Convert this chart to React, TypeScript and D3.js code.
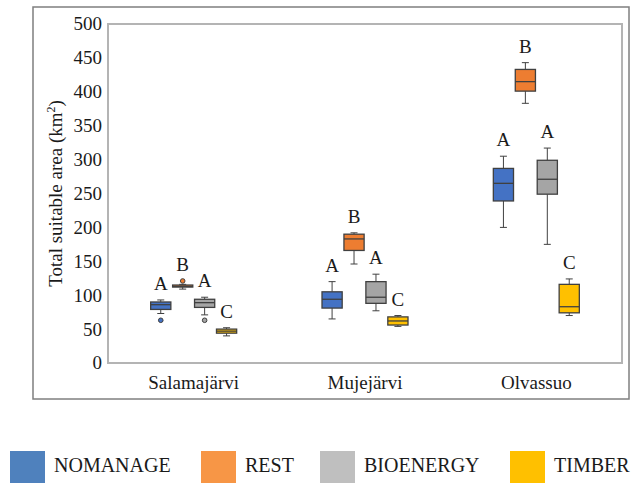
import React, { useEffect } from 'react';
import * as d3 from 'd3';

const sites = ['Salamajärvi', 'Mujejärvi', 'Olvassuo'];
const series = ['NOMANAGE', 'REST', 'BIOENERGY', 'TIMBER'];
const boxColors = ['#4472C4', '#ED7D31', '#A5A5A5', '#FFC000'];
const legendColors = ['#4F81BD', '#F79646', '#BFBFBF', '#FFC000'];
const yTicks = [0, 50, 100, 150, 200, 250, 300, 350, 400, 450, 500];

// [whisker low, q1, median, q3, whisker high] per site
const nomanage = [
  [73, 79, 86, 90, 93],
  [65, 81, 94, 105, 120],
  [200, 239, 265, 287, 305],
];
const rest = [
  [109, 112, 113, 115, 116],
  [146, 166, 183, 190, 192],
  [383, 401, 415, 433, 443],
];
const bioenergy = [
  [71, 82, 89, 94, 97],
  [77, 88, 97, 120, 131],
  [175, 249, 271, 299, 317],
];
const timber = [
  [40, 44, 47, 50, 52],
  [54, 56, 62, 68, 70],
  [70, 74, 83, 116, 124],
];
const outliers = [
  [[63], [], []],
  [[121], [], []],
  [[63], [], []],
  [[], [], []],
];
const letters = [
  ['A', 'A', 'A'],
  ['B', 'B', 'B'],
  ['A', 'A', 'A'],
  ['C', 'C', 'C'],
];

const allStats = [nomanage, rest, bioenergy, timber];

const FONT = "'Liberation Serif', 'DejaVu Serif', 'Times New Roman', Times, serif";

const App = () => {
  useEffect(() => {
    document.body.style.margin = '0';
  }, []);

  const width = 632;
  const height = 483;
  const plot = { left: 108, right: 622, top: 24, bottom: 363 };

  const x = d3.scaleBand().domain(sites).range([plot.left, plot.right]);
  const inner = d3
    .scaleBand()
    .domain(series)
    .range([-43, 43])
    .paddingInner(0.08);
  const y = d3.scaleLinear().domain([0, 500]).range([plot.bottom, plot.top]);
  const bw = inner.bandwidth();
  const cap = 7;

  return (
    <svg width={width} height={height} fontFamily={FONT} style={{ display: 'block' }}>
      <rect x={0} y={0} width={width} height={height} fill="#fff" />
      {/* outer frame */}
      <rect x={33} y={7} width={596} height={392} fill="none" stroke="#7f7f7f" strokeWidth={1.5} />
      {/* plot frame */}
      <rect
        x={plot.left}
        y={plot.top}
        width={plot.right - plot.left}
        height={plot.bottom - plot.top}
        fill="none"
        stroke="#b4b4b4"
        strokeWidth={2}
      />

      {yTicks.map((t) => (
        <text key={t} x={plot.left - 6} y={y(t)} dy="0.34em" textAnchor="end" fontSize={19} fontFamily={FONT} fill="#1a1a1a">
          {t}
        </text>
      ))}

      <text
        transform={`translate(56,${(plot.top + plot.bottom) / 2}) rotate(-90)`}
        textAnchor="middle"
        dy="0.3em"
        fontSize={19}
        fontFamily={FONT}
        fill="#1a1a1a"
      >
        Total suitable area (km<tspan dy="-7" fontSize={12}>2</tspan>
        <tspan dy="7">)</tspan>
      </text>

      {sites.map((s) => (
        <text key={s} x={x(s)! + x.bandwidth() / 2} y={389} textAnchor="middle" fontSize={19} fontFamily={FONT} fill="#1a1a1a">
          {s}
        </text>
      ))}

      {series.map((ser, si) =>
        sites.map((site, k) => {
          const [lo, q1, med, q3, hi] = allStats[si][k];
          const cx = x(site)! + x.bandwidth() / 2 + inner(ser)! + bw / 2;
          const outs = outliers[si][k];
          const top = Math.max(hi, ...outs);
          return (
            <g key={ser + site}>
              <line x1={cx} x2={cx} y1={y(hi)} y2={y(q3)} stroke="#404040" strokeWidth={1} />
              <line x1={cx} x2={cx} y1={y(q1)} y2={y(lo)} stroke="#404040" strokeWidth={1} />
              <line x1={cx - cap / 2} x2={cx + cap / 2} y1={y(hi)} y2={y(hi)} stroke="#404040" strokeWidth={1} />
              <line x1={cx - cap / 2} x2={cx + cap / 2} y1={y(lo)} y2={y(lo)} stroke="#404040" strokeWidth={1} />
              <rect
                x={cx - bw / 2}
                y={y(q3)}
                width={bw}
                height={y(q1) - y(q3)}
                fill={boxColors[si]}
                stroke="#404040"
                strokeWidth={1.3}
              />
              <line x1={cx - bw / 2} x2={cx + bw / 2} y1={y(med)} y2={y(med)} stroke="#404040" strokeWidth={1.3} />
              {outs.map((o, oi) => (
                <circle key={oi} cx={cx} cy={y(o)} r={2.3} fill={boxColors[si]} stroke="#404040" strokeWidth={1} />
              ))}
              <text x={cx} y={y(top) - 10} textAnchor="middle" fontSize={19} fontFamily={FONT} fill="#1a1a1a">
                {letters[si][k]}
              </text>
            </g>
          );
        })
      )}

      {series.map((ser, si) => {
        const lx = [10, 201, 320, 510][si];
        return (
          <g key={ser}>
            <rect x={lx} y={451} width={35} height={32} fill={legendColors[si]} />
            <text x={lx + 44} y={472} fontSize={20} fontFamily={FONT} fill="#1a1a1a">
              {ser}
            </text>
          </g>
        );
      })}
    </svg>
  );
};

export default App;
